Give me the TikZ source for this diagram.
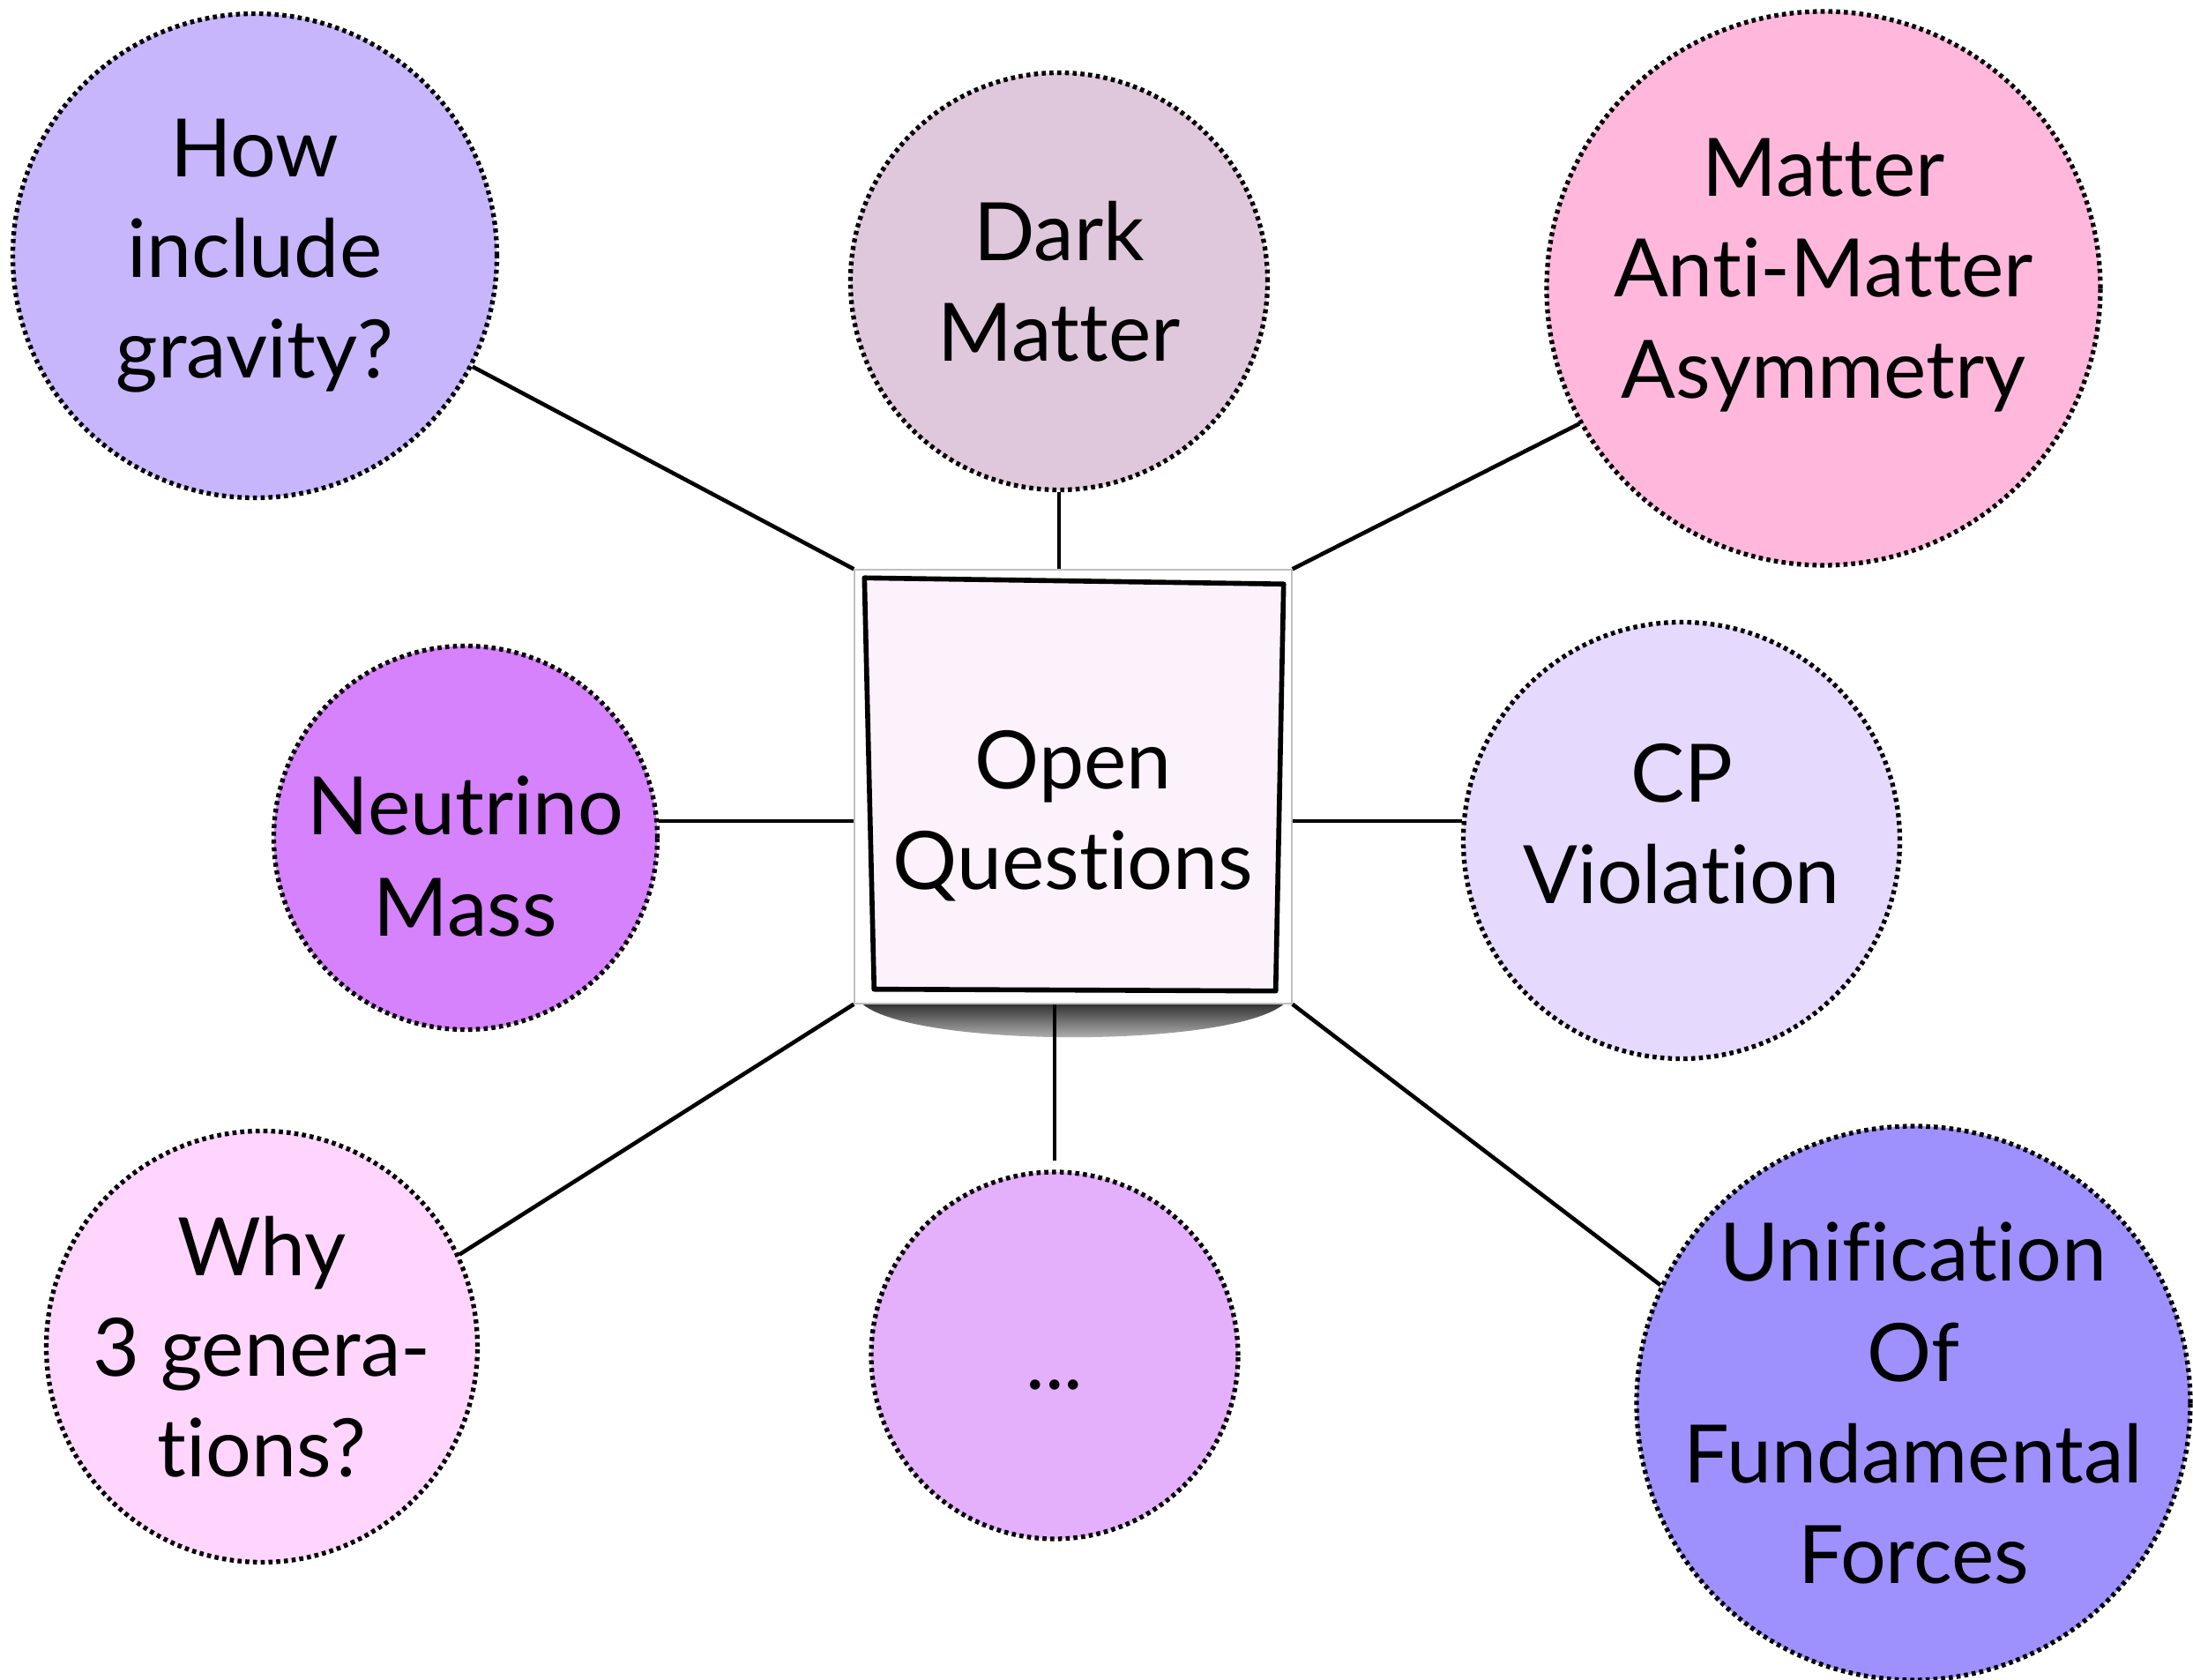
\documentclass[tikz,border=0pt]{standalone}
\usepackage{fontspec}
\setmainfont{Lato}[Ligatures={NoCommon}]
\usepackage{tikz}
\usetikzlibrary{backgrounds,shapes}

\definecolor{gravfill}{HTML}{C8B6FD}
\definecolor{darkfill}{HTML}{E0C8DC}
\definecolor{asymfill}{HTML}{FFB8DC}
\definecolor{neufill}{HTML}{D582FC}
\definecolor{cpfill}{HTML}{E6D9FE}
\definecolor{genfill}{HTML}{FFD5FD}
\definecolor{morefill}{HTML}{E4B0FC}
\definecolor{unifill}{HTML}{9E91FD}
\definecolor{boxfill}{HTML}{FCF2FC}

% lines of text, moved up or down inside their node
\newcommand{\qlines}[2]{\raisebox{#1}[0pt][0pt]{\begin{tabular}{@{}c@{}}#2\end{tabular}}}

\begin{document}
\begin{tikzpicture}
\tikzstyle{question} = [circle, draw, line width=1.5pt, dash pattern=on 1.3pt off 1.2pt,
  align=center, inner sep=-1.5cm, font=\fontsize{26}{32.5}\selectfont]
\tikzstyle{frame} = [rectangle, fill=white, draw=black!25, inner sep=0pt,
  minimum width=4.96cm, minimum height=4.92cm]
\tikzstyle{link} = [line width=1.3pt]

\useasboundingbox (0,0) rectangle (24.87,19.05);

\node[question, fill=gravfill, minimum size=5.49cm] (grav) at (2.89,16.15)
  {How\\include\\gravity?};
\node[question, fill=darkfill, minimum size=4.73cm] (dm) at (12.01,15.86)
  {Dark\\Matter};
\node[question, fill=asymfill, minimum size=6.28cm] (mam) at (20.68,15.78)
  {\qlines{-0.09cm}{Matter\\Anti-Matter\\Asymmetry}};
\node[question, fill=neufill, minimum size=4.35cm] (neu) at (5.28,9.55)
  {\qlines{-0.53cm}{Neutrino\\Mass}};
\node[question, fill=cpfill, minimum size=4.95cm] (cp) at (19.07,9.52)
  {\qlines{-0.13cm}{CP\\Violation}};
\node[question, fill=genfill, minimum size=4.89cm] (why) at (2.97,3.78)
  {Why\\3 genera-\\tions?};
\node[question, fill=morefill, minimum size=4.16cm] (dots) at (11.96,3.68)
  {\qlines{-0.38cm}{...}};
\node[question, fill=unifill, minimum size=6.28cm] (uni) at (21.70,3.14)
  {Unification\\Of\\Fundamental\\Forces};

% the sticky note in the middle
\node[frame] (oq) at (12.17,10.13) {};
\filldraw[fill=boxfill, line width=1.6pt, line join=round]
  ([shift={(0.12,-0.10)}]oq.north west) -- ([shift={(-0.10,-0.17)}]oq.north east)
  -- ([shift={(-0.19,0.15)}]oq.south east) -- ([shift={(0.23,0.17)}]oq.south west)
  -- cycle;
\node[align=center, font=\fontsize{26}{32.5}\selectfont] (oqtext) at ([yshift=-0.33cm]oq)
  {Open\\Questions};

\begin{scope}[on background layer]
\shade[top color=black!80, bottom color=black!15]
  ([xshift=0.1cm]oq.south west) .. controls +(0.6,-0.5) and +(-0.6,-0.5)
  .. ([xshift=-0.1cm]oq.south east) -- cycle;
\draw[link] (oq.north west) -- (grav.-27);
\draw[link] (dm.south) -- (dm.south |- oq.north);
\draw[link] (oq.north east) -- (mam.-151);
\draw[link] (neu.5) -- (neu.5 -| oq.west);
\draw[link] (cp.175) -- (cp.175 -| oq.east);
\draw[link] (oq.south west) -- (why.25);
\draw[link] (dots.north) ++(0,0.1) -- (dots.north |- oq.south);
\draw[link] (oq.south east) -- (uni.155);
\end{scope}
\end{tikzpicture}
\end{document}
